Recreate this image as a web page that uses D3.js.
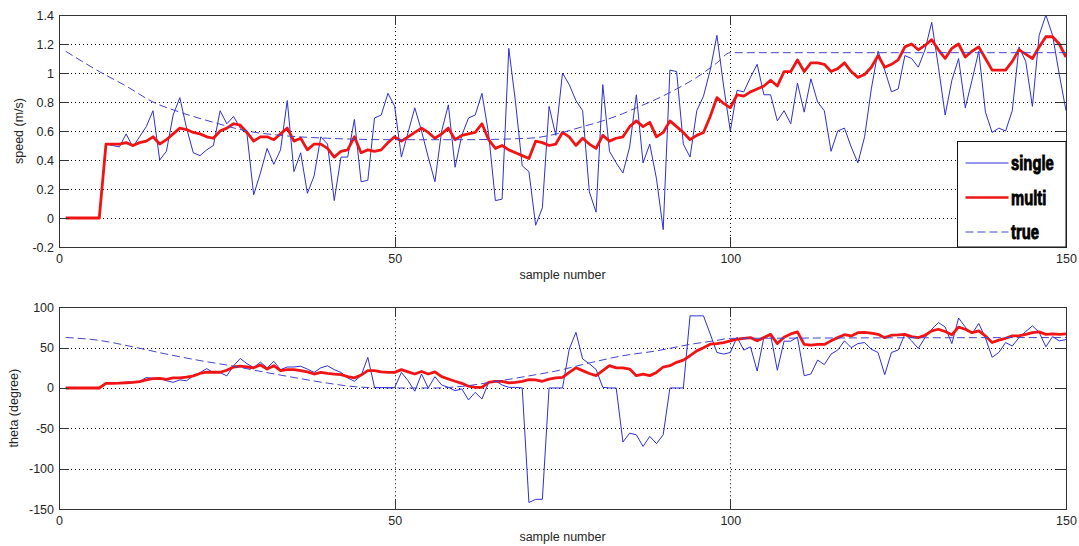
<!DOCTYPE html>
<html>
<head>
<meta charset="utf-8">
<script src="https://cdnjs.cloudflare.com/ajax/libs/d3/7.8.5/d3.min.js"></script>
<style>
  html, body { margin: 0; padding: 0; background: #fff; }
</style>
</head>
<body>
<svg id="chart" width="1079" height="546"></svg>
<script>
// sample index of first value in each series
const firstSample = 1;
const xTicks = [0, 50, 100, 150];
const speedTicks = [-0.2, 0, 0.2, 0.4, 0.6, 0.8, 1, 1.2, 1.4];
const thetaTicks = [-150, -100, -50, 0, 50, 100];
const legendNames = ['single', 'multi', 'true'];

const speedSingle = [
  0, 0, 0, 0, 0, 0, 0.51, 0.50, 0.49, 0.58,
  0.49, 0.56, 0.63, 0.74, 0.40, 0.46, 0.71, 0.83, 0.62, 0.45,
  0.43, 0.47, 0.50, 0.74, 0.65, 0.70, 0.62, 0.58, 0.16, 0.31,
  0.48, 0.37, 0.47, 0.81, 0.32, 0.45, 0.17, 0.29, 0.56, 0.51,
  0.12, 0.42, 0.42, 0.68, 0.25, 0.26, 0.69, 0.71, 0.86, 0.77,
  0.42, 0.59, 0.76, 0.60, 0.42, 0.25, 0.60, 0.78, 0.35, 0.57,
  0.69, 0.71, 0.86, 0.58, 0.12, 0.13, 1.17, 0.80, 0.36, 0.32,
  -0.05, 0.07, 0.77, 0.57, 1.00, 0.92, 0.81, 0.74, 0.18, 0.04,
  0.92, 0.46, 0.38, 0.31, 0.49, 0.85, 0.38, 0.51, 0.27, -0.08,
  1.02, 1.01, 0.51, 0.42, 0.74, 0.84, 1.02, 1.26, 0.91, 0.60,
  0.88, 0.87, 0.97, 1.06, 0.85, 0.85, 0.67, 0.74, 0.65, 0.93,
  0.73, 0.96, 0.80, 0.74, 0.46, 0.60, 0.62, 0.49, 0.38, 0.56,
  0.89, 1.15, 1.02, 0.87, 0.89, 1.12, 1.10, 1.04, 1.16, 1.35,
  1.04, 0.71, 0.95, 1.10, 0.76, 0.95, 1.15, 0.73, 0.59, 0.62,
  0.60, 0.74, 1.18, 1.08, 0.77, 1.26, 1.40, 1.26, 0.99, 0.74
];
const speedMulti = [
  0, 0, 0, 0, 0, 0, 0.51, 0.51, 0.51, 0.52,
  0.50, 0.52, 0.53, 0.56, 0.51, 0.54, 0.58, 0.62, 0.61, 0.59,
  0.58, 0.56, 0.55, 0.60, 0.62, 0.65, 0.64, 0.59, 0.53, 0.56,
  0.56, 0.54, 0.58, 0.62, 0.53, 0.55, 0.47, 0.51, 0.51, 0.48,
  0.42, 0.46, 0.47, 0.56, 0.45, 0.47, 0.46, 0.47, 0.52, 0.56,
  0.53, 0.56, 0.59, 0.62, 0.59, 0.55, 0.58, 0.62, 0.54, 0.57,
  0.58, 0.59, 0.65, 0.54, 0.48, 0.50, 0.47, 0.45, 0.43, 0.41,
  0.53, 0.52, 0.50, 0.51, 0.59, 0.56, 0.50, 0.55, 0.51, 0.48,
  0.57, 0.53, 0.55, 0.56, 0.63, 0.67, 0.63, 0.66, 0.56, 0.59,
  0.67, 0.63, 0.59, 0.54, 0.57, 0.59, 0.70, 0.83, 0.79, 0.76,
  0.85, 0.84, 0.87, 0.89, 0.91, 0.95, 0.91, 1.01, 1.01, 1.09,
  1.01, 1.07, 1.07, 1.06, 1.01, 1.03, 1.07, 1.01, 0.97, 0.99,
  1.04, 1.12, 1.04, 1.06, 1.09, 1.18, 1.20, 1.16, 1.19, 1.23,
  1.16, 1.10, 1.17, 1.20, 1.11, 1.15, 1.18, 1.10, 1.02, 1.02,
  1.02, 1.08, 1.16, 1.13, 1.10, 1.18, 1.25, 1.25, 1.20, 1.11
];
// true speed, read at these sample numbers
const speedTrueX = [1, 6, 10, 14, 18, 23, 28, 33, 40, 50, 60, 70, 75, 78, 81, 84, 86, 89, 92, 95, 98, 100, 150];
const speedTrueY = [1.15, 1.01, 0.91, 0.80, 0.73, 0.66, 0.60, 0.57, 0.55, 0.54, 0.54, 0.55, 0.59, 0.63, 0.67, 0.72, 0.76, 0.82, 0.89, 0.97, 1.07, 1.14, 1.14];

const thetaSingle = [
  0, 0, 0, 0, 0, 0, 5.7, 6, 6.5, 7,
  7.5, 8, 13, 12, 12, 9, 7, 10, 9, 15,
  19, 24, 19, 19, 15, 27.5, 36.6, 30, 25.5, 32,
  25, 33, 22.7, 26, 26, 27, 23.4, 19.3, 25, 27.5,
  22.7, 19.3, 12.5, 8.3, 15.3, 38, 0.8, 0.5, 0.5, 0.5,
  19.3, 9, -4, 17.3, 0, 14, 3.7, 0.8, -3.3, -1.2,
  -14.8, -5.4, -13.7, 7, 9, 3.7, 0.8, 0.8, 0, -142,
  -138, -138, 0, 0, 0, 48, 69, 36, 30, 23,
  0.8, 0, 0, -67, -56, -58, -72.5, -60, -69, -58,
  0, 0, 0, 89.4, 89.4, 89.4, 67, 44, 42, 44,
  63, 47, 51, 21, 63, 66, 22, 58, 58, 63,
  15.2, 17.3, 34.6, 29, 42, 47, 58.4, 50, 55, 56.3,
  48, 44, 16.5, 44, 47, 66.5, 58.4, 49, 62.4, 72.7,
  81, 75.5, 55, 86.7, 75.5, 67, 80, 62, 38, 44,
  56.3, 52, 62.4, 70, 77, 69, 51, 63.7, 58.4, 60
];
const thetaMulti = [
  0, 0, 0, 0, 0, 0, 5.7, 5.7, 6, 6.5,
  7, 8, 10, 11.5, 12, 10.7, 12.5, 12.5, 13.5, 15,
  18, 19.5, 19.5, 19.5, 22, 26, 27, 26, 25, 28.5,
  23.5, 27.6, 21.5, 22.7, 22.7, 21.5, 20, 17.3, 19.3, 18,
  17.3, 16.5, 14, 12.5, 16, 21.5, 21.5, 20, 19.3, 19.3,
  22.7, 20, 17.3, 20.5, 17.3, 20, 14, 11.1, 8.3, 5.8,
  2.2, 0.8, 0.8, 7, 8.3, 8.3, 6.2, 7, 8.3, 10.3,
  10, 8.3, 11, 12.4, 13.2, 19.3, 25, 21.5, 18, 15.3,
  21.5, 27.7, 25, 25, 23.4, 15.3, 17.3, 15.3, 19.3, 26,
  27.6, 31.8, 34.6, 40, 46, 50, 54.3, 55, 56.3, 58.4,
  60.4, 61.6, 62.4, 58.4, 62.4, 66.5, 55, 63, 67, 69.6,
  54, 53, 54, 54, 58.4, 62.4, 66, 64.5, 68.6, 69,
  68, 66.5, 62.4, 65.4, 65.8, 66.5, 63.7, 62.4, 65.4, 70.8,
  72.8, 70, 66, 75.5, 72.8, 68.6, 70.8, 64.5, 56.3, 59.3,
  61.6, 64.5, 64.5, 66.5, 68.6, 69.6, 66.5, 67, 66.5, 67
];
const thetaTrueX = [1, 6, 11, 16, 21, 26, 31, 35, 40, 45, 50, 56, 60, 65, 70, 74, 79, 84, 89, 94, 98, 100, 150];
const thetaTrueY = [62.6, 59, 51, 42, 34, 27, 19, 13, 6, 1, 0, 0, 2, 8, 15, 21, 31, 40, 46, 54, 59, 61.5, 62.5];

const svg = d3.select('#chart');
const FONT = '"Liberation Sans", Arial, Helvetica, sans-serif';
const blue = '#2f2fd6';
const red = '#f01414';
const dashBlue = '#4444cc';

const x = d3.scaleLinear().domain([0, 150]).range([59, 1066]);

function drawPanel(cfg) {
  const y = d3.scaleLinear().domain(cfg.domain).range([cfg.bottom, cfg.top]);
  const g = svg.append('g');
  const left = x.range()[0], right = x.range()[1];

  // dotted grid
  g.selectAll('line.hgrid')
    .data(cfg.ticks.slice(1, -1))
    .enter()
    .append('line')
      .attr('x1', left).attr('x2', right)
      .attr('y1', d => Math.round(y(d)) + 0.5).attr('y2', d => Math.round(y(d)) + 0.5)
      .attr('stroke', '#000').attr('stroke-width', 1)
      .attr('stroke-dasharray', '1,3');
  g.selectAll('line.vgrid')
    .data(xTicks.slice(1, -1))
    .enter()
    .append('line')
      .attr('y1', cfg.top).attr('y2', cfg.bottom)
      .attr('x1', d => Math.round(x(d)) + 0.5).attr('x2', d => Math.round(x(d)) + 0.5)
      .attr('stroke', '#000').attr('stroke-width', 1)
      .attr('stroke-dasharray', '1,3');

  const clipId = 'clip-' + cfg.name;
  svg.append('clipPath').attr('id', clipId)
    .append('rect')
      .attr('x', left).attr('y', cfg.top - 2)
      .attr('width', right - left).attr('height', cfg.bottom - cfg.top + 4);

  const line = d3.line()
    .x((d, i) => x(i + firstSample))
    .y(d => y(d));

  g.append('path')
    .attr('clip-path', 'url(#' + clipId + ')')
    .attr('d', line(cfg.single))
    .attr('fill', 'none').attr('stroke', blue).attr('stroke-width', 1);

  g.append('path')
    .attr('clip-path', 'url(#' + clipId + ')')
    .attr('d', line(cfg.multi))
    .attr('fill', 'none').attr('stroke', red).attr('stroke-width', 2.8)
    .attr('stroke-linejoin', 'round');

  const trueLine = d3.line()
    .x(d => x(d[0]))
    .y(d => y(d[1]))
    .curve(d3.curveMonotoneX);
  g.append('path')
    .attr('clip-path', 'url(#' + clipId + ')')
    .attr('d', trueLine(d3.zip(cfg.trueX, cfg.trueY)))
    .attr('fill', 'none').attr('stroke', dashBlue).attr('stroke-width', 1)
    .attr('stroke-dasharray', '8,4');

  // axes with inward ticks on all four sides
  const fmt = d => String(Math.round(d * 10) / 10);
  const axes = [
    [d3.axisLeft(y).tickValues(cfg.ticks).tickFormat(fmt), 'translate(' + left + ',0)'],
    [d3.axisRight(y).tickValues(cfg.ticks).tickFormat(''), 'translate(' + right + ',0)'],
    [d3.axisBottom(x).tickValues(xTicks).tickFormat(d3.format('d')), 'translate(0,' + cfg.bottom + ')'],
    [d3.axisTop(x).tickValues(xTicks).tickFormat(''), 'translate(0,' + cfg.top + ')']
  ];
  for (const a of axes) {
    const ag = g.append('g')
      .attr('transform', a[1])
      .call(a[0].tickSizeInner(-10).tickSizeOuter(0).tickPadding(5));
    ag.attr('font-family', FONT).attr('font-size', 12.5);
    ag.selectAll('path, line').attr('stroke', '#333').attr('shape-rendering', 'crispEdges');
    ag.selectAll('text').attr('fill', '#262626');
  }
  g.selectAll('g text').filter(function () { return this.parentNode.parentNode.getAttribute('transform') === 'translate(0,' + cfg.bottom + ')'; })
    .attr('dy', null).attr('y', 16);

  g.append('text')
    .attr('x', (left + right) / 2).attr('y', cfg.bottom + 32)
    .attr('text-anchor', 'middle')
    .attr('font-family', FONT).attr('font-size', 12.5).attr('fill', '#262626')
    .text('sample number');

  g.append('text')
    .attr('transform', 'translate(' + cfg.labelX + ',' + (cfg.top + cfg.bottom) / 2 + ') rotate(-90)')
    .attr('text-anchor', 'middle')
    .attr('font-family', FONT).attr('font-size', 12.5).attr('fill', '#262626')
    .text(cfg.label);

  return y;
}

drawPanel({
  name: 'speed', domain: [-0.2, 1.4], ticks: speedTicks, top: 15, bottom: 247,
  single: speedSingle, multi: speedMulti, trueX: speedTrueX, trueY: speedTrueY,
  label: 'speed (m/s)', labelX: 22.5
});

drawPanel({
  name: 'theta', domain: [-150, 100], ticks: thetaTicks, top: 307.3, bottom: 509,
  single: thetaSingle, multi: thetaMulti, trueX: thetaTrueX, trueY: thetaTrueY,
  label: 'theta (degree)', labelX: 17.5
});

// legend in the lower right corner of the speed panel
const legend = svg.append('g').attr('transform', 'translate(957.5,141.5)');
legend.append('rect')
  .attr('width', 108.5).attr('height', 105.5)
  .attr('fill', '#fff').attr('stroke', '#111').attr('stroke-width', 1);
const legendStyles = [
  { color: blue, width: 1, dash: null },
  { color: red, width: 2.5, dash: null },
  { color: dashBlue, width: 1, dash: '8,4' }
];
legendNames.forEach((name, i) => {
  const ly = 21.5 + i * 34.5;
  legend.append('line')
    .attr('x1', 8).attr('x2', 51).attr('y1', ly).attr('y2', ly)
    .attr('stroke', legendStyles[i].color).attr('stroke-width', legendStyles[i].width)
    .attr('stroke-dasharray', legendStyles[i].dash);
  legend.append('text')
    .attr('transform', 'translate(53.5,' + (ly + 7) + ') scale(0.76,1)')
    .attr('font-family', FONT).attr('font-weight', 'bold').attr('font-size', 19.5)
    .attr('fill', '#000').attr('stroke', '#000').attr('stroke-width', 0.9)
    .text(name);
});
</script>
</body>
</html>
